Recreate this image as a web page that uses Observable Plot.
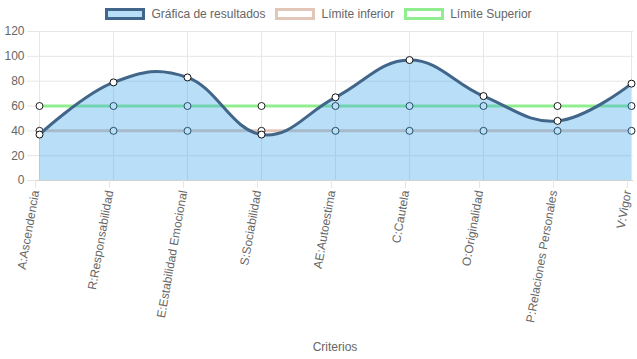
<!DOCTYPE html>
<html>
<head>
<meta charset="utf-8">
<script src="https://cdn.jsdelivr.net/npm/d3@7"></script>
<script src="https://cdn.jsdelivr.net/npm/@observablehq/plot@0.6"></script>
<style>
  body { margin: 0; background: #fff; font-family: "Liberation Sans", Arial, sans-serif; }
  #legend { height: 24px; display: flex; justify-content: center; align-items: flex-start; font-size: 12px; color: #666; }
  .item { display: flex; align-items: center; margin: 0 5px; height: 24px; padding-top: 4px; box-sizing: border-box; }
  .sw { width: 40px; height: 12px; box-sizing: border-box; margin-right: 6px; }
  svg { display: block; overflow: visible; }
</style>
</head>
<body>
<div id="legend"></div>
<div id="chart"></div>
<script>
const categories = ["A:Ascendencia","R:Responsabilidad","E:Estabilidad Emocional","S:Sociabilidad","AE:Autoestima","C:Cautela","O:Originalidad","P:Relaciones Personales","V:Vigor"];
const resultados = [37, 79, 83, 37, 67, 97, 68, 48, 78];
const inferior = [40, 40, 40, 40, 40, 40, 40, 40, 40];
const superior = [60, 60, 60, 60, 60, 60, 60, 60, 60];
const yTicks = [0, 20, 40, 60, 80, 100, 120];
const seriesNames = ["Gráfica de resultados", "Límite inferior", "Límite Superior"];

const colResult = "#41668a";
const colFill = "rgb(54,162,235)";
const colLower = "#e2c6ba";
const colUpper = "#90ee90";

const legendStyles = [
  {bg: "rgba(54,162,235,0.35)", border: colResult},
  {bg: "#fff", border: colLower},
  {bg: "#fff", border: colUpper}
];
const legend = document.getElementById("legend");
seriesNames.forEach((n, i) => {
  const it = document.createElement("div");
  it.className = "item";
  const sw = document.createElement("div");
  sw.className = "sw";
  sw.style.background = legendStyles[i].bg;
  sw.style.border = `3px solid ${legendStyles[i].border}`;
  const t = document.createElement("span");
  t.textContent = n;
  it.appendChild(sw); it.appendChild(t);
  legend.appendChild(it);
});

const rows = categories.map((c, i) => ({c, r: resultados[i], lo: inferior[i], hi: superior[i]}));
const curve = d3.curveCardinal.tension(-0.2);

const chart = Plot.plot({
  width: 637,
  height: 335,
  marginLeft: 36,
  marginRight: 4,
  marginTop: 7,
  marginBottom: 179,
  style: {fontFamily: "'Liberation Sans', Arial, sans-serif", fontSize: "12px", color: "#666", background: "#fff", overflow: "visible"},
  x: {type: "point", domain: categories, padding: 0},
  y: {domain: [0, 120]},
  marks: [
    Plot.gridX(categories, {stroke: "#e6e6e6", strokeOpacity: 1}),
    Plot.gridY(yTicks, {stroke: "#e6e6e6", strokeOpacity: 1}),
    Plot.ruleY([0], {stroke: "#d0d0d0"}),
    Plot.axisY(yTicks, {tickSize: 9, tickPadding: 3, stroke: "#e6e6e6", fill: "#666", label: null}),
    Plot.axisX(categories, {tickSize: 8, tickPadding: 2, tickRotate: -80, dx: -4, stroke: "#e6e6e6", fill: "#666", label: null}),
    Plot.axisX({tickSize: 0, ticks: [], label: "Criterios", labelAnchor: "center", labelOffset: 170, fill: "#666"}),
    Plot.lineY(rows, {x: "c", y: "lo", stroke: colLower, strokeWidth: 3}),
    Plot.lineY(rows, {x: "c", y: "hi", stroke: colUpper, strokeWidth: 3}),
    Plot.dot(rows, {x: "c", y: "lo", r: 3.5, fill: "#fff", stroke: "#222", strokeWidth: 1}),
    Plot.dot(rows, {x: "c", y: "hi", r: 3.5, fill: "#fff", stroke: "#222", strokeWidth: 1}),
    Plot.areaY(rows, {x: "c", y: "r", curve, fill: colFill, fillOpacity: 0.35}),
    Plot.lineY(rows, {x: "c", y: "r", curve, stroke: colResult, strokeWidth: 3}),
    Plot.dot(rows, {x: "c", y: "r", r: 3.5, fill: "#fff", stroke: "#111", strokeWidth: 1})
  ]
});
document.getElementById("chart").appendChild(chart);
</script>
</body>
</html>
